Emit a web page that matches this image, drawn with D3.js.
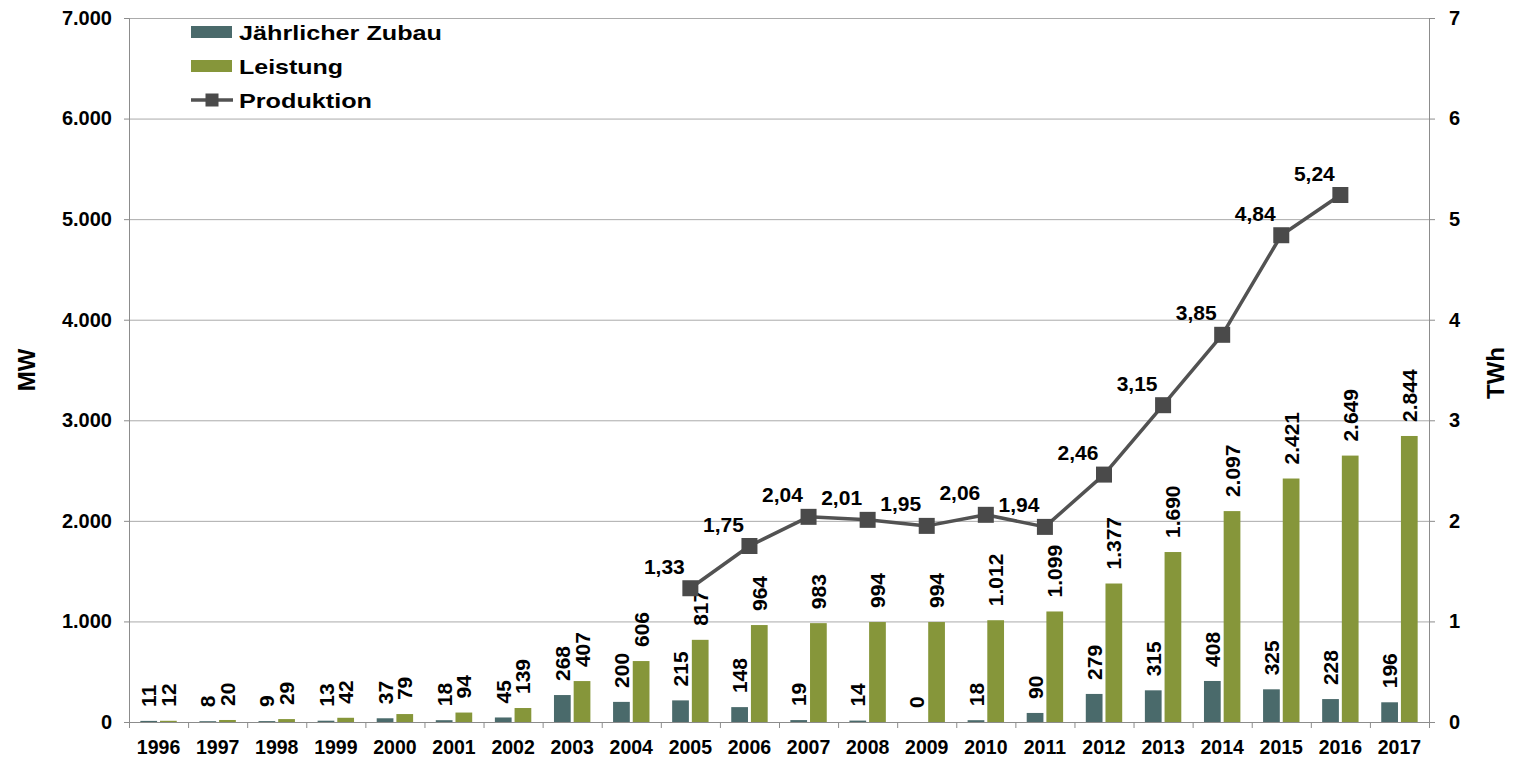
<!DOCTYPE html>
<html>
<head>
<meta charset="utf-8">
<script src="https://cdn.jsdelivr.net/npm/d3@7"></script>
<style>
  html, body { margin: 0; padding: 0; background: #ffffff; }
  svg { display: block; font-family: "Liberation Sans", Arial, sans-serif; font-weight: bold; }
</style>
</head>
<body>
<svg id="chart" width="1515" height="757"></svg>
<script>
// ---- data ----
const years = ["1996","1997","1998","1999","2000","2001","2002","2003","2004","2005","2006",
               "2007","2008","2009","2010","2011","2012","2013","2014","2015","2016","2017"];
const zubau = [11, 8, 9, 13, 37, 18, 45, 268, 200, 215, 148, 19, 14, 0, 18, 90, 279, 315, 408, 325, 228, 196];
const leistung = [12, 20, 29, 42, 79, 94, 139, 407, 606, 817, 964, 983, 994, 994, 1012, 1099, 1377, 1690, 2097, 2421, 2649, 2844];
const produktion = [null, null, null, null, null, null, null, null, null,
                    1.33, 1.75, 2.04, 2.01, 1.95, 2.06, 1.94, 2.46, 3.15, 3.85, 4.84, 5.24, null];
const leftTicks = [0, 1000, 2000, 3000, 4000, 5000, 6000, 7000];
const rightTicks = [0, 1, 2, 3, 4, 5, 6, 7];
const seriesNames = ["Jährlicher Zubau", "Leistung", "Produktion"];

// ---- style ----
const colZubau = "#4a6a6b";
const colLeistung = "#86963a";
const colLine = "#525252";
const colMarker = "#4a4a4a";
const colGrid = "#ababab";
const colAxis = "#8c8c8c";
const FONT = "Liberation Sans, Arial, sans-serif";

const de = d3.formatLocale({decimal: ",", thousands: ".", grouping: [3], currency: ["", " €"]});
const fmtInt = de.format(",d");
const fmt2 = de.format(".2f");

const svg = d3.select("#chart");
const L = 129, R = 1429, T = 18, B = 722;

const x0 = d3.scaleBand().domain(years).range([L, R]).paddingInner(0).paddingOuter(0);
const x1 = d3.scaleBand().domain(["z", "l"]).range([0, x0.bandwidth()]).paddingInner(0.15).paddingOuter(0.576);
const yL = d3.scaleLinear().domain([0, 7000]).range([B, T]);
const yR = d3.scaleLinear().domain([0, 7]).range([B, T]);

// gridlines
svg.append("g").selectAll("line").data(leftTicks.filter(d => d > 0)).join("line")
  .attr("x1", L).attr("x2", R)
  .attr("y1", d => yL(d) + 0.5).attr("y2", d => yL(d) + 0.5)
  .attr("stroke", colGrid).attr("stroke-width", 1);

// bars
const bars = svg.append("g");
bars.selectAll("rect.z").data(years).join("rect").attr("class", "z")
  .attr("x", d => x0(d) + x1("z")).attr("width", x1.bandwidth())
  .attr("y", (d, i) => yL(zubau[i])).attr("height", (d, i) => B - yL(zubau[i]))
  .attr("fill", colZubau);
bars.selectAll("rect.l").data(years).join("rect").attr("class", "l")
  .attr("x", d => x0(d) + x1("l")).attr("width", x1.bandwidth())
  .attr("y", (d, i) => yL(leistung[i])).attr("height", (d, i) => B - yL(leistung[i]))
  .attr("fill", colLeistung);

// left axis
const gL = svg.append("g").attr("transform", `translate(${L},0)`)
  .call(d3.axisLeft(yL).tickValues(leftTicks).tickSize(5).tickPadding(12).tickFormat(fmtInt));
gL.select(".domain").attr("stroke", colAxis);
gL.selectAll(".tick line").attr("stroke", colAxis);
gL.selectAll("text").attr("font-size", 20).attr("font-family", FONT)
  .attr("font-weight", "bold").attr("fill", "#000");

// right axis
const gR = svg.append("g").attr("transform", `translate(${R},0)`)
  .call(d3.axisRight(yR).tickValues(rightTicks).tickSize(6).tickPadding(14).tickFormat(d3.format("d")));
gR.select(".domain").attr("stroke", colAxis);
gR.selectAll(".tick line").attr("stroke", colAxis);
gR.selectAll("text").attr("font-size", 20).attr("font-family", FONT)
  .attr("font-weight", "bold").attr("fill", "#000");

// bottom axis: labels at centers, ticks at boundaries
const gB = svg.append("g").attr("transform", `translate(0,${B})`)
  .call(d3.axisBottom(x0).tickSize(0).tickPadding(18));
gB.select(".domain").remove();
gB.selectAll("text").attr("font-size", 19.5).attr("font-family", FONT)
  .attr("font-weight", "bold").attr("fill", "#000");
svg.append("line").attr("x1", L).attr("x2", R).attr("y1", B + 0.5).attr("y2", B + 0.5).attr("stroke", colAxis);
const bounds = years.map(d => x0(d)).concat([x0.range()[1]]);
svg.append("g").selectAll("line").data(bounds).join("line")
  .attr("x1", d => d + 0.5).attr("x2", d => d + 0.5).attr("y1", B).attr("y2", B + 6)
  .attr("stroke", colAxis);

// bar labels
const lab = svg.append("g").attr("font-size", 21).attr("fill", "#000");
lab.selectAll("text.z").data(years).join("text").attr("class", "z")
  .attr("transform", (d, i) => `translate(${x0(d) + x1("z") + x1.bandwidth() / 2},${yL(zubau[i]) - 14}) rotate(-90)`)
  .attr("dy", "0.36em").attr("text-anchor", "start")
  .text((d, i) => fmtInt(zubau[i]));
lab.selectAll("text.l").data(years).join("text").attr("class", "l")
  .attr("transform", (d, i) => `translate(${x0(d) + x1("l") + x1.bandwidth() / 2},${yL(leistung[i]) - 14}) rotate(-90)`)
  .attr("dy", "0.36em").attr("text-anchor", "start")
  .text((d, i) => fmtInt(leistung[i]));

// line
const pts = years.map((d, i) => ({year: d, v: produktion[i]})).filter(p => p.v !== null);
const cx = p => x0(p.year) + x0.bandwidth() / 2;
const line = d3.line().x(cx).y(p => yR(p.v));
svg.append("path").datum(pts).attr("d", line)
  .attr("fill", "none").attr("stroke", colLine).attr("stroke-width", 3.5).attr("stroke-linejoin", "round");
const ms = 16;
svg.append("g").selectAll("rect").data(pts).join("rect")
  .attr("x", p => cx(p) - ms / 2).attr("y", p => yR(p.v) - ms / 2)
  .attr("width", ms).attr("height", ms).attr("fill", colMarker);
svg.append("g").attr("font-size", 21).attr("fill", "#000").selectAll("text").data(pts).join("text")
  .attr("x", p => cx(p) - 26).attr("y", p => yR(p.v) - 22).attr("dy", "0.36em")
  .attr("text-anchor", "middle").text(p => fmt2(p.v));

// axis titles
svg.append("text").attr("transform", "translate(26,370) rotate(-90)").attr("text-anchor", "middle")
  .attr("dy", "0.36em").attr("font-size", 24).text("MW");
svg.append("text").attr("transform", "translate(1495,373) rotate(-90)").attr("text-anchor", "middle")
  .attr("dy", "0.36em").attr("font-size", 24).text("TWh");

// legend
const lg = svg.append("g").attr("transform", "translate(191,0)");
const rowY = [32, 66, 100];
const legW = [203, 104, 133];
lg.append("rect").attr("x", 0).attr("y", rowY[0] - 6).attr("width", 41).attr("height", 12).attr("fill", colZubau);
lg.append("rect").attr("x", 0).attr("y", rowY[1] - 6).attr("width", 41).attr("height", 12).attr("fill", colLeistung);
lg.append("line").attr("x1", 0).attr("x2", 42).attr("y1", rowY[2]).attr("y2", rowY[2])
  .attr("stroke", colLine).attr("stroke-width", 3.5);
lg.append("rect").attr("x", 21 - 6.5).attr("y", rowY[2] - 6.5).attr("width", 13).attr("height", 13).attr("fill", colMarker);
lg.selectAll("text").data(seriesNames).join("text")
  .attr("x", 48).attr("y", (d, i) => rowY[i] + 8)
  .attr("font-size", 21).attr("textLength", (d, i) => legW[i]).attr("lengthAdjust", "spacingAndGlyphs")
  .text(d => d);
</script>
</body>
</html>
